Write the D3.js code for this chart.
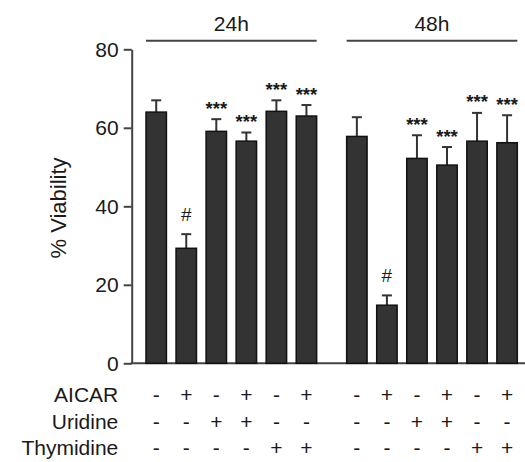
<!DOCTYPE html>
<html>
<head>
<meta charset="utf-8">
<script src="https://cdn.jsdelivr.net/npm/d3@7"></script>
<style>
  html, body { margin: 0; padding: 0; background: #fff; }
  svg { display: block; font-family: "Liberation Sans", Arial, sans-serif; }
</style>
</head>
<body>
<svg id="chart" width="525" height="462"></svg>
<script>
// Treatment timepoints and per-condition treatment flags
const groups = ["24h", "48h"];
const conditionIndex = [0, 1, 2, 3, 4, 5];
const aicar     = ["-", "+", "-", "+", "-", "+"];
const uridine   = ["-", "-", "+", "+", "-", "-"];
const thymidine = ["-", "-", "-", "-", "+", "+"];

// Mean % viability and SEM for each timepoint
const viability24 = [64.0, 29.3, 59.1, 56.6, 64.2, 63.0];
const sem24       = [3.0, 3.6, 3.1, 2.2, 2.8, 2.8];
const viability48 = [57.8, 14.8, 52.2, 50.5, 56.6, 56.2];
const sem48       = [4.9, 2.5, 5.9, 4.6, 7.2, 7.0];

// Significance marks
const marks24 = ["", "#", "***", "***", "***", "***"];
const marks48 = ["", "#", "***", "***", "***", "***"];

const yTicks = [0, 20, 40, 60, 80];
const rowLabels = ["AICAR", "Uridine", "Thymidine"];

const svg = d3.select("#chart");
const ink = "#1a1a1a";
const lineCol = "#444";

const y = d3.scaleLinear().domain([0, 80]).range([363.3, 49.3]);
const xGroup = d3.scaleBand().domain(groups).range([146, 517.3]).paddingInner(0.1495).paddingOuter(0);
const xCond = d3.scaleBand().domain(conditionIndex).range([0, xGroup.bandwidth()]).paddingInner(0.32).paddingOuter(0);

const data = [];
groups.forEach((g, gi) => {
  const vals = gi === 0 ? viability24 : viability48;
  const sems = gi === 0 ? sem24 : sem48;
  const marks = gi === 0 ? marks24 : marks48;
  conditionIndex.forEach(i => {
    data.push({ group: g, i, value: vals[i], sem: sems[i], mark: marks[i] });
  });
});
const cx = d => xGroup(d.group) + xCond(d.i) + xCond.bandwidth() / 2;

// Y axis
const yAxis = d3.axisLeft(y).tickValues(yTicks).tickSize(8).tickSizeOuter(0).tickPadding(5);
const ga = svg.append("g").attr("transform", "translate(131.7,0)").call(yAxis);
ga.select(".domain").attr("stroke", lineCol).attr("stroke-width", 2);
ga.selectAll(".tick line").attr("stroke", lineCol).attr("stroke-width", 2);
ga.selectAll(".tick text").attr("fill", ink).style("font-size", "21px");

// Baseline
svg.append("line")
  .attr("x1", 130.7).attr("x2", 525)
  .attr("y1", y(0)).attr("y2", y(0))
  .attr("stroke", lineCol).attr("stroke-width", 2);

// Y label
svg.append("text")
  .attr("transform", "translate(66,208) rotate(-90)")
  .attr("text-anchor", "middle")
  .attr("fill", ink)
  .style("font-size", "22px")
  .text("% Viability");

// Group headers
const hdr = svg.selectAll("g.hdr").data(groups).join("g").attr("class", "hdr");
hdr.append("line")
  .attr("x1", g => xGroup(g)).attr("x2", g => xGroup(g) + xGroup.bandwidth())
  .attr("y1", 40.7).attr("y2", 40.7)
  .attr("stroke", lineCol).attr("stroke-width", 2);
hdr.append("text")
  .attr("x", g => xGroup(g) + xGroup.bandwidth() / 2)
  .attr("y", 30.7)
  .attr("text-anchor", "middle")
  .attr("fill", ink)
  .style("font-size", "21px")
  .text(g => g);

// Error bars (upper only)
const eb = svg.selectAll("g.err").data(data).join("g").attr("class", "err")
  .attr("stroke", "#333").attr("stroke-width", 2);
eb.append("line")
  .attr("x1", cx).attr("x2", cx)
  .attr("y1", d => y(d.value)).attr("y2", d => y(d.value + d.sem));
eb.append("line")
  .attr("x1", d => cx(d) - 5).attr("x2", d => cx(d) + 5)
  .attr("y1", d => y(d.value + d.sem)).attr("y2", d => y(d.value + d.sem));

// Bars
svg.selectAll("rect.bar").data(data).join("rect").attr("class", "bar")
  .attr("x", d => xGroup(d.group) + xCond(d.i))
  .attr("width", xCond.bandwidth())
  .attr("y", d => y(d.value))
  .attr("height", d => y(0) - y(d.value))
  .attr("fill", "#333")
  .attr("stroke", "#111")
  .attr("stroke-width", 1.5);

// Significance marks
svg.selectAll("text.mark").data(data.filter(d => d.mark)).join("text").attr("class", "mark")
  .attr("x", cx)
  .attr("y", d => y(d.value + d.sem) - (d.mark === "#" ? 13 : 4.5))
  .attr("text-anchor", "middle")
  .attr("fill", ink)
  .style("font-size", d => d.mark === "#" ? "19px" : "18.5px")
  .style("font-weight", d => d.mark === "#" ? "normal" : "bold")
  .text(d => d.mark);

// Treatment table
const rows = [aicar, uridine, thymidine];
const rowY = [402.3, 429.3, 455];
rows.forEach((flags, r) => {
  svg.append("text")
    .attr("x", 118.3).attr("y", rowY[r])
    .attr("text-anchor", "end")
    .attr("fill", ink)
    .style("font-size", "21px")
    .text(rowLabels[r]);
  svg.selectAll(null).data(data).join("text")
    .attr("x", cx).attr("y", rowY[r])
    .attr("text-anchor", "middle")
    .attr("fill", ink)
    .style("font-size", "21px")
    .text(d => flags[d.i]);
});
</script>
</body>
</html>
